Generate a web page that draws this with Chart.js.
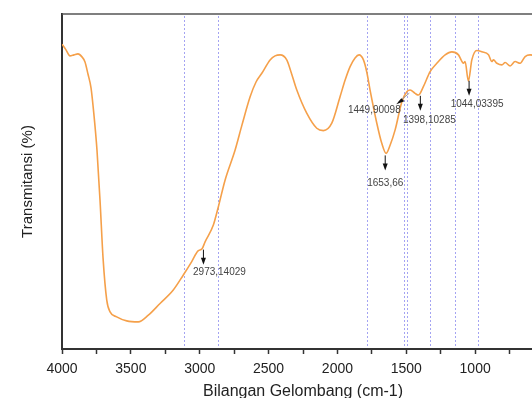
<!DOCTYPE html>
<html><head><meta charset="utf-8">
<script src="https://cdn.jsdelivr.net/npm/chart.js@4/dist/chart.umd.min.js"></script>
<style>html,body{margin:0;padding:0;background:#fff;overflow:hidden;width:532px;height:398px}canvas{display:block}</style>
</head><body>
<canvas id="c" width="560" height="398" style="width:560px;height:398px"></canvas>
<script>
const wavenumbers = [4000,3971,3942,3913,3884,3855,3833,3811,3789,3768,3746,3724,3702,3675,3651,3603,3530,3446,3373,3288,3192,3119,3058,3012,2983,2961,2901,2865,2816,2743,2693,2634,2591,2549,2489,2453,2416,2368,2337,2295,2223,2150,2102,2041,1981,1944,1908,1872,1843,1811,1787,1763,1714,1678,1647,1617,1581,1532,1496,1472,1436,1412,1376,1327,1278,1218,1169,1121,1102,1085,1073,1049,1024,988,951,903,879,867,842,806,782,746,710,673,637,601,528,455];
const transmittance = [91.0,89.3,87.5,87.8,88.1,87.2,85.7,82.0,77.9,69.9,59.4,44.5,27.2,14.6,11.1,9.6,8.4,8.1,10.1,13.6,17.6,22.1,26.1,29.3,29.9,32.0,37.0,42.4,50.4,59.4,66.9,75.3,79.7,82.3,86.3,87.5,87.8,86.3,82.7,77.3,70.4,65.9,65.2,67.4,75.3,80.3,84.3,86.9,87.8,86.3,82.7,77.3,67.4,61.4,58.4,60.9,65.4,73.8,76.8,77.3,76.3,75.8,78.3,82.8,85.3,87.8,88.7,87.8,86.3,85.3,85.8,80.0,86.3,89.1,88.7,87.8,85.8,86.3,85.3,84.8,85.5,84.5,85.8,85.3,87.3,87.8,87.2,86.9];
const markerLines = [3112, 2869, 1782, 1518, 1497, 1329, 1147, 978];
const peakWavenumbers = [2973, 1653, 1449, 1398, 1044];
const peakLabels = ['2973,14029', '1653,66', '1449,90098', '1398,10285', '1044,03395'];
const xTickValues = [4000,3750,3500,3250,3000,2750,2500,2250,2000,1750,1500,1250,1000,750,500];
const xLabelValues = [4000,3500,3000,2500,2000,1500,1000,500];

const points = wavenumbers.map((w, i) => ({x: w, y: transmittance[i]}));

function valueAt(w) {
  for (let i = 0; i < wavenumbers.length - 1; i++) {
    const a = wavenumbers[i], b = wavenumbers[i + 1];
    if (w <= a && w >= b) {
      const t = (a - w) / (a - b);
      return transmittance[i] + t * (transmittance[i + 1] - transmittance[i]);
    }
  }
  return transmittance[transmittance.length - 1];
}

// styling for annotation placement (pixel offsets)
const annotStyle = [
  {mode: 'down', dx: 16, dy: 8},
  {mode: 'down', dx: 0, dy: 13},
  {mode: 'left', tx: -39, ty: 18},
  {mode: 'down', dx: 9, dy: 9},
  {mode: 'down', dx: 8, dy: 8}
];

const deco = {
  id: 'deco',
  beforeDatasetsDraw(chart) {
    const {ctx, chartArea: ca, scales: {x}} = chart;
    ctx.save();
    ctx.strokeStyle = '#a4a4f2';
    ctx.lineWidth = 1;
    ctx.setLineDash([2, 2]);
    markerLines.forEach(w => {
      const px = Math.round(x.getPixelForValue(w)) + 0.5;
      ctx.beginPath();
      ctx.moveTo(px, ca.top + 2);
      ctx.lineTo(px, ca.bottom - 1);
      ctx.stroke();
    });
    ctx.setLineDash([]);
    ctx.strokeStyle = '#555';
    ctx.lineWidth = 1.5;
    ctx.beginPath();
    ctx.moveTo(ca.left, ca.top);
    ctx.lineTo(ca.right, ca.top);
    ctx.stroke();
    ctx.restore();
  },
  afterDatasetsDraw(chart) {
    const {ctx, scales: {x, y}} = chart;
    ctx.save();
    ctx.font = '10px "Liberation Sans", Arial, sans-serif';
    ctx.textAlign = 'center';
    ctx.textBaseline = 'middle';
    peakWavenumbers.forEach((w, i) => {
      const st = annotStyle[i];
      const px = x.getPixelForValue(w);
      const cy = y.getPixelForValue(valueAt(w));
      ctx.strokeStyle = '#111';
      ctx.fillStyle = '#111';
      ctx.lineWidth = 1;
      if (st.mode === 'down') {
        const y0 = cy + 4, y1 = cy + 19;
        ctx.beginPath();
        ctx.moveTo(px, y0);
        ctx.lineTo(px, y1 - 5);
        ctx.stroke();
        ctx.beginPath();
        ctx.moveTo(px - 2.5, y1 - 7);
        ctx.lineTo(px + 2.5, y1 - 7);
        ctx.lineTo(px, y1);
        ctx.closePath();
        ctx.fill();
        ctx.fillStyle = '#444';
        ctx.fillText(peakLabels[i], px + st.dx, y1 + st.dy);
      } else {
        const x0 = px - 4, y0 = cy + 1;
        const x1 = px - 15, y1 = cy + 10;
        ctx.strokeStyle = '#999';
        ctx.beginPath();
        ctx.moveTo(x0, y0);
        ctx.lineTo(x1, y1);
        ctx.stroke();
        ctx.fillStyle = '#111';
        ctx.beginPath();
        ctx.moveTo(x1 - 2, y1 + 2);
        ctx.lineTo(x1 + 3, y1 - 4);
        ctx.lineTo(x1 + 6, y1 - 1);
        ctx.closePath();
        ctx.fill();
        ctx.fillStyle = '#444';
        ctx.fillText(peakLabels[i], px + st.tx, cy + st.ty);
      }
    });
    ctx.restore();
  }
};

new Chart(document.getElementById('c'), {
  type: 'line',
  data: {
    datasets: [{
      data: points,
      borderColor: '#f5a04a',
      borderWidth: 1.6,
      pointRadius: 0,
      fill: false,
      cubicInterpolationMode: 'monotone'
    }]
  },
  options: {
    responsive: false,
    animation: false,
    devicePixelRatio: 1,
    layout: {padding: {top: 14, right: 16, bottom: 0, left: 0}},
    plugins: {legend: {display: false}, tooltip: {enabled: false}},
    scales: {
      x: {
        type: 'linear',
        reverse: true,
        min: 500,
        max: 4000,
        afterBuildTicks: s => { s.ticks = xTickValues.map(v => ({value: v})); },
        afterFit: s => { s.height = 49; s.paddingLeft = 0; s.paddingRight = 0; },
        ticks: {
          autoSkip: false,
          maxRotation: 0,
          padding: 7,
          color: '#222',
          font: {family: '"Liberation Sans", Arial, sans-serif', size: 14},
          callback: v => xLabelValues.includes(v) ? String(v) : ''
        },
        grid: {drawOnChartArea: false, drawTicks: true, tickLength: 5, tickWidth: 1.5, tickColor: '#333'},
        border: {display: true, color: '#333', width: 2},
        title: {
          display: true,
          text: 'Bilangan Gelombang (cm-1)',
          color: '#222',
          font: {family: '"Liberation Sans", Arial, sans-serif', size: 16},
          padding: {top: 0, bottom: -3}
        }
      },
      y: {
        type: 'linear',
        min: 0,
        max: 100,
        afterFit: s => { s.width = 62; },
        ticks: {display: false},
        grid: {drawOnChartArea: false, drawTicks: false},
        border: {display: true, color: '#333', width: 2},
        title: {
          display: true,
          text: 'Transmitansi (%)',
          color: '#222',
          font: {family: '"Liberation Sans", Arial, sans-serif', size: 15},
          padding: {top: 19, bottom: 0}
        }
      }
    }
  },
  plugins: [deco]
});
</script>
</body></html>
